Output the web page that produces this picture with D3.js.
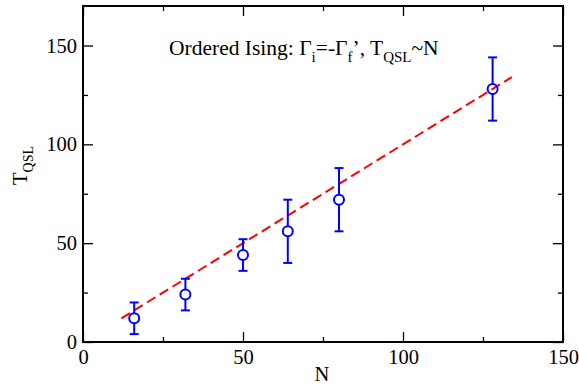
<!DOCTYPE html>
<html>
<head>
<meta charset="utf-8">
<script src="https://cdn.jsdelivr.net/npm/d3@7/dist/d3.min.js"></script>
<style>
  html, body { margin: 0; padding: 0; background: #fff; }
  svg text { font-family: "Liberation Serif", "Times New Roman", serif; fill: #000; }
</style>
</head>
<body>
<svg id="chart" width="579" height="388"></svg>
<script>
// Quantum speed limit time vs system size
const sizesN = [16, 32, 50, 64, 80, 128];
const tQSL = [12, 24, 44, 56, 72, 128];
const tQSLErr = [8, 8, 8, 16, 16, 16];

// Linear guide T_QSL ~ N
const fitN = [12, 134];
const fitT = [12, 134];

const xMajorTicks = [0, 50, 100, 150];
const xMinorTicks = [25, 75, 125];
const yMajorTicks = [0, 50, 100, 150];
const yMinorTicks = [25, 75, 125];

const W = 579, H = 388;
const margin = { left: 83, right: 16, top: 6, bottom: 46 };
const svg = d3.select("#chart");

const x = d3.scaleLinear().domain([0, 150]).range([margin.left, W - margin.right]);
const y = d3.scaleLinear().domain([0, 170]).range([H - margin.bottom, margin.top]);

const fontSize = 20.5;

// frame
svg.append("rect")
  .attr("x", x(0)).attr("y", y(170))
  .attr("width", x(150) - x(0)).attr("height", y(0) - y(170))
  .attr("fill", "none").attr("stroke", "#000").attr("stroke-width", 2);

function styleAxis(g) {
  g.attr("font-family", null).attr("font-size", null);
  g.select(".domain").remove();
  g.selectAll(".tick line").attr("stroke", "#000").attr("stroke-width", 1.3);
  g.selectAll(".tick text")
    .style("font-size", fontSize + "px")
    .attr("fill", "#000");
}

// bottom axis (labels) and mirrored top axis
svg.append("g").attr("transform", `translate(0,${y(0)})`)
  .call(d3.axisBottom(x).tickValues(xMajorTicks).tickSize(-10).tickPadding(7).tickFormat(d3.format("d")))
  .call(styleAxis);
svg.append("g").attr("transform", `translate(0,${y(0)})`)
  .call(d3.axisBottom(x).tickValues(xMinorTicks).tickSize(-5).tickFormat(""))
  .call(styleAxis);
svg.append("g").attr("transform", `translate(0,${y(170)})`)
  .call(d3.axisTop(x).tickValues(xMajorTicks).tickSize(-10).tickFormat(""))
  .call(styleAxis);
svg.append("g").attr("transform", `translate(0,${y(170)})`)
  .call(d3.axisTop(x).tickValues(xMinorTicks).tickSize(-5).tickFormat(""))
  .call(styleAxis);

// left axis (labels) and mirrored right axis
svg.append("g").attr("transform", `translate(${x(0)},0)`)
  .call(d3.axisLeft(y).tickValues(yMajorTicks).tickSize(-10).tickPadding(6).tickFormat(d3.format("d")))
  .call(styleAxis);
svg.append("g").attr("transform", `translate(${x(0)},0)`)
  .call(d3.axisLeft(y).tickValues(yMinorTicks).tickSize(-5).tickFormat(""))
  .call(styleAxis);
svg.append("g").attr("transform", `translate(${x(150)},0)`)
  .call(d3.axisRight(y).tickValues(yMajorTicks).tickSize(-10).tickFormat(""))
  .call(styleAxis);
svg.append("g").attr("transform", `translate(${x(150)},0)`)
  .call(d3.axisRight(y).tickValues(yMinorTicks).tickSize(-5).tickFormat(""))
  .call(styleAxis);

// dashed linear guide
svg.append("path")
  .datum(fitN.map((n, i) => [n, fitT[i]]))
  .attr("d", d3.line().x(d => x(d[0])).y(d => y(d[1])))
  .attr("fill", "none").attr("stroke", "#ff0000")
  .attr("stroke-width", 2).attr("stroke-dasharray", "10,5");

// error bars and markers
const pts = sizesN.map((n, i) => ({ n, t: tQSL[i], e: tQSLErr[i] }));
const capHalf = 4.5;
const g = svg.append("g").attr("stroke", "#0000ff").attr("stroke-width", 2).attr("fill", "none");
pts.forEach(p => {
  const cx = x(p.n);
  g.append("line").attr("x1", cx).attr("x2", cx).attr("y1", y(p.t + p.e)).attr("y2", y(p.t) - 5);
  g.append("line").attr("x1", cx).attr("x2", cx).attr("y1", y(p.t) + 5).attr("y2", y(p.t - p.e));
  g.append("line").attr("x1", cx - capHalf).attr("x2", cx + capHalf).attr("y1", y(p.t + p.e)).attr("y2", y(p.t + p.e));
  g.append("line").attr("x1", cx - capHalf).attr("x2", cx + capHalf).attr("y1", y(p.t - p.e)).attr("y2", y(p.t - p.e));
  g.append("circle").attr("cx", cx).attr("cy", y(p.t)).attr("r", 5);
});

// title with subscripts
const titleSize = 21.5;
const subSize = 15;
const title = svg.append("text").attr("x", 169).attr("y", 55).style("font-size", titleSize + "px");
const parts = [
  ["Ordered Ising: \u0393", 0],
  ["i", 1],
  ["=-\u0393", 0],
  ["f", 1],
  ["\u2019, T", 0],
  ["QSL", 1],
  ["~N", 0]
];
parts.forEach(([txt, sub], i) => {
  const prev = i > 0 ? parts[i - 1][1] : 0;
  const ts = title.append("tspan").text(txt);
  if (sub) ts.style("font-size", subSize + "px").attr("dy", !prev ? 7 : 0);
  else if (prev) ts.attr("dy", -7);
});

// axis titles
svg.append("text")
  .attr("x", x(75) - 1).attr("y", 381)
  .attr("text-anchor", "middle")
  .style("font-size", fontSize + "px")
  .text("N");

const yt = svg.append("text")
  .attr("transform", "translate(27,185) rotate(-90)")
  .style("font-size", fontSize + "px");
yt.append("tspan").text("T");
yt.append("tspan").attr("dy", 6).style("font-size", "14px").text("QSL");
</script>
</body>
</html>
